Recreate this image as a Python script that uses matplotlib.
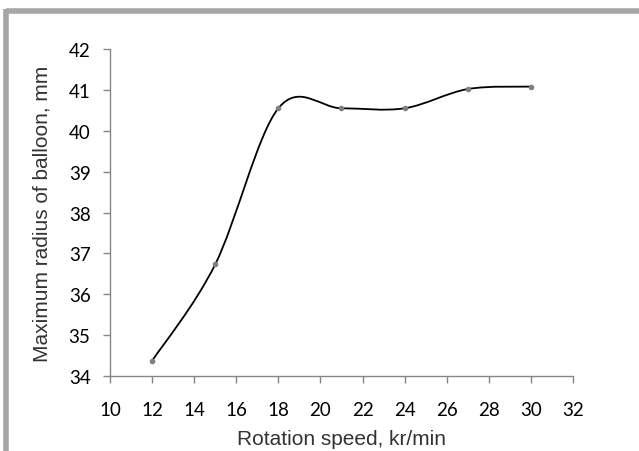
import matplotlib
matplotlib.use("Agg")
import matplotlib.pyplot as plt
from matplotlib.path import Path
from matplotlib.patches import PathPatch
from matplotlib.lines import Line2D

speed = [12, 15, 18, 21, 24, 27, 30]
radius = [34.37, 36.73, 40.55, 40.55, 40.55, 41.02, 41.08]
x_ticks = [10, 12, 14, 16, 18, 20, 22, 24, 26, 28, 30, 32]
y_ticks = [34, 35, 36, 37, 38, 39, 40, 41, 42]


def smooth_path(xs, ys):
    # excel-like smoothed line: catmull-rom converted to cubic bezier segments
    verts = [(xs[0], ys[0])]
    codes = [Path.MOVETO]
    n = len(xs)
    for i in range(n - 1):
        x0, y0 = (xs[i - 1], ys[i - 1]) if i > 0 else (xs[i], ys[i])
        x1, y1 = xs[i], ys[i]
        x2, y2 = xs[i + 1], ys[i + 1]
        x3, y3 = (xs[i + 2], ys[i + 2]) if i + 2 < n else (x2, y2)
        c1 = (x1 + (x2 - x0) / 6, y1 + (y2 - y0) / 6)
        c2 = (x2 - (x3 - x1) / 6, y2 - (y3 - y1) / 6)
        verts += [c1, c2, (x2, y2)]
        codes += [Path.CURVE4] * 3
    return Path(verts, codes)


fig = plt.figure(figsize=(6.39, 4.52), dpi=100)
ax = fig.add_axes([0.1721, 0.1659, 0.7246, 0.7235])

ax.add_patch(PathPatch(smooth_path(speed, radius), facecolor="none",
                       edgecolor="black", lw=1.3, zorder=2))
ax.plot(speed, radius, ls="none", marker="o", ms=3, color="#7f7f7f", zorder=3)

ax.set_xlim(10, 32)
ax.set_ylim(34, 42)
ax.set_xticks(x_ticks)
ax.set_yticks(y_ticks)

for s in ["top", "right"]:
    ax.spines[s].set_visible(False)
for s in ["left", "bottom"]:
    ax.spines[s].set_color("#868686")
    ax.spines[s].set_linewidth(1.0)
ax.tick_params(direction="out", length=5, color="#868686", width=1.0,
               labelsize=13.5, labelcolor="black")
ax.tick_params(axis="x", pad=13)
ax.tick_params(axis="y", pad=9)
for lab in ax.get_xticklabels() + ax.get_yticklabels():
    lab.set_family("Lato")

ax.set_xlabel("Rotation speed, kr/min", fontsize=15, family="Liberation Sans",
              color="#333333", labelpad=8)
ax.set_ylabel("Maximum radius of balloon, mm", fontsize=15,
              family="Liberation Sans", color="#333333", labelpad=12)

# gray frame on top and left edges
fig.add_artist(Line2D([0.0095, 1.0], [0.9725, 0.9725], color="#a6a6a6",
                      lw=4, transform=fig.transFigure, solid_capstyle="butt"))
fig.add_artist(Line2D([0.0095, 0.0095], [0.0, 0.9770], color="#a6a6a6",
                      lw=4, transform=fig.transFigure, solid_capstyle="butt"))

fig.savefig("out.png", dpi=100)
